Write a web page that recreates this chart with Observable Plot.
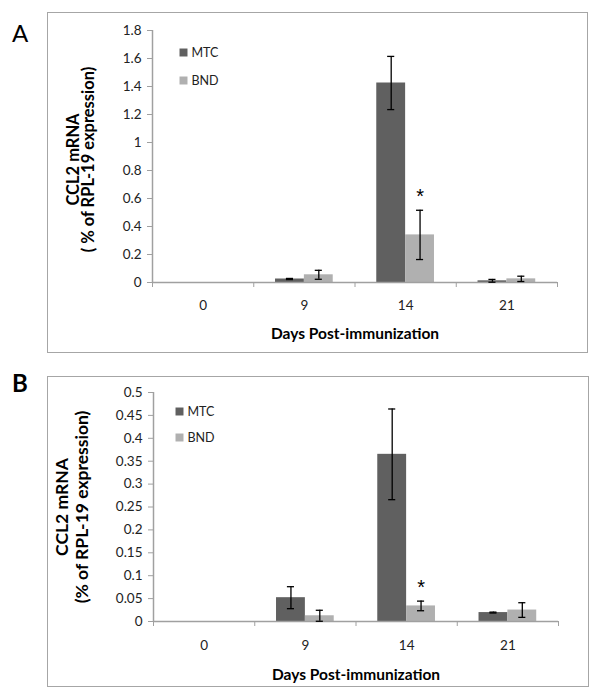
<!DOCTYPE html>
<html><head><meta charset="utf-8">
<script src="https://cdn.jsdelivr.net/npm/d3@7"></script>
<script src="https://cdn.jsdelivr.net/npm/@observablehq/plot@0.6"></script>
<style>
body{margin:0;background:#fff;width:600px;height:697px;position:relative;font-family:Lato,"Open Sans",sans-serif;overflow:hidden}
.box{position:absolute;border:1.5px solid #a6a6a6;box-sizing:border-box;pointer-events:none}
.holder{position:absolute}
.letter{position:absolute;font-size:24px;color:#000;line-height:28px}
</style></head><body>
<div class="letter" style="left:12px;top:19px;">A</div>
<div class="letter" style="left:12px;top:369px;font-weight:bold;">B</div>
<div class="holder" id="pa" style="left:48px;top:13px;width:539px;height:339px"></div>
<div class="holder" id="pb" style="left:48px;top:377px;width:540px;height:309px"></div>
<div class="box" style="left:47px;top:12px;width:541px;height:341px"></div>
<div class="box" style="left:47px;top:376px;width:542px;height:311px"></div>
<script>
// ---- data ----
const days = ["0", "9", "14", "21"];
const seriesNames = ["MTC", "BND"];
const seriesColors = ["#606060", "#b0b0b0"];

const A_mtc     = [0, 0.025, 1.425, 0.012];
const A_mtcErr  = [0, 0.004, 0.190, 0.010];
const A_bnd     = [0, 0.055, 0.340, 0.026];
const A_bndErr  = [0, 0.032, 0.176, 0.019];
const A_bndSig  = [false, false, true, false];
const A_yTicks  = [0, 0.2, 0.4, 0.6, 0.8, 1, 1.2, 1.4, 1.6, 1.8];

const B_mtc     = [0, 0.052, 0.365, 0.0195];
const B_mtcErr  = [0, 0.024, 0.099, 0.001];
const B_bnd     = [0, 0.0125, 0.034, 0.025];
const B_bndErr  = [0, 0.012, 0.0105, 0.016];
const B_bndSig  = [false, false, true, false];
const B_yTicks  = [0, 0.05, 0.1, 0.15, 0.2, 0.25, 0.3, 0.35, 0.4, 0.45, 0.5];

const yTitle1 = "CCL2 mRNA";
const yTitle2A = "( % of RPL-19 expression)";
const yTitle2B = "(% of RPL-19 expression)";
const xTitle = "Days Post-immunization";

// ---- drawing ----
const axisGray = "#a0a0a0";
const barW = 0.285;   // fraction of a category per bar
const capW = 0.035;   // half cap width, fraction of a category

function panel(o) {
  const rows = days.flatMap((d, i) => [
    {day: d, s: "MTC", v: o.mtc[i], e: o.mtcErr[i], x1: i + 0.5 - barW, x2: i + 0.5, sig: false},
    {day: d, s: "BND", v: o.bnd[i], e: o.bndErr[i], x1: i + 0.5, x2: i + 0.5 + barW, sig: o.sig[i]}
  ]);
  rows.forEach(r => r.cx = (r.x1 + r.x2) / 2);
  const errRows = rows.filter(r => r.e > 0);
  const bounds = d3.range(days.length + 1);
  const legend = seriesNames.flatMap((s, k) => [
    Plot.dot([s], {frameAnchor: "top-left", dx: o.legDx, dy: o.legDy + k * o.legGap, symbol: "square", r: 4.5, fill: seriesColors[k]}),
    Plot.text([s], {frameAnchor: "top-left", dx: o.legDx + 8, dy: o.legDy + k * o.legGap, text: d => d, textAnchor: "start", lineAnchor: "middle", fontSize: 12.5, fill: "#222"})
  ]);
  return Plot.plot({
    width: o.width, height: o.height,
    marginLeft: o.ml, marginRight: o.mr, marginTop: o.mt, marginBottom: o.mb,
    style: {fontFamily: "Lato, 'Open Sans', sans-serif", fontSize: "13px", background: "transparent", overflow: "visible"},
    x: {domain: [0, days.length]},
    y: {domain: [0, o.yMax]},
    color: {domain: seriesNames, range: seriesColors},
    marks: [
      Plot.rectY(rows, {x1: "x1", x2: "x2", y1: 0, y2: "v", fill: "s"}),
      Plot.ruleY([0], {stroke: axisGray, strokeWidth: 1.5}),
      Plot.ruleX([0], {stroke: axisGray, strokeWidth: 1.5}),
      Plot.axisY({ticks: o.yTicks, tickSize: 5, tickPadding: 6, tickFormat: d => String(d), stroke: axisGray, fill: "#222", fontSize: 13.5, label: null}),
      Plot.axisX({ticks: bounds, tickSize: 5, tickFormat: () => "", stroke: axisGray, label: null}),
      Plot.text(days, {x: (d, i) => i + 0.5, y: () => 0, text: d => d, dy: o.xLabDy, lineAnchor: "middle", fontSize: 13.5, fill: "#222"}),
      Plot.ruleX(errRows, {x: "cx", y1: r => r.v - r.e, y2: r => r.v + r.e, stroke: "#000", strokeWidth: 1.3}),
      Plot.ruleY(errRows, {y: r => r.v + r.e, x1: r => r.cx - capW, x2: r => r.cx + capW, stroke: "#000", strokeWidth: 1.3}),
      Plot.ruleY(errRows, {y: r => r.v - r.e, x1: r => r.cx - capW, x2: r => r.cx + capW, stroke: "#000", strokeWidth: 1.3}),
      Plot.text(rows.filter(r => r.sig), {x: "cx", y: r => r.v + r.e, text: () => "*", dy: -14, lineAnchor: "middle", fontSize: 20, fontFamily: "'Liberation Sans', sans-serif", fill: "#000"}),
      Plot.text([xTitle], {frameAnchor: "bottom", dy: o.xTitleDy, textAnchor: "middle", lineAnchor: "middle", fontWeight: "bold", fontSize: 15.5, fill: "#000"}),
      Plot.text([yTitle1], {frameAnchor: "left", rotate: -90, dx: o.yt1Dx, dy: o.ytDy, textAnchor: "middle", lineAnchor: "middle", fontWeight: "bold", fontSize: o.ytSize, fill: "#000"}),
      Plot.text([o.yTitle2], {frameAnchor: "left", rotate: -90, dx: o.yt2Dx, dy: o.ytDy, textAnchor: "middle", lineAnchor: "middle", fontWeight: "bold", fontSize: o.ytSize, fill: "#000"}),
      ...legend
    ]
  });
}

document.getElementById("pa").append(panel({
  mtc: A_mtc, mtcErr: A_mtcErr, bnd: A_bnd, bndErr: A_bndErr, sig: A_bndSig,
  yMax: 1.8, yTicks: A_yTicks, yTitle2: yTitle2A,
  width: 539, height: 339, ml: 104, mr: 30, mt: 17, mb: 70,
  xLabDy: 23, xTitleDy: 52, yt1Dx: -79, yt2Dx: -64, ytDy: 3, ytSize: 16.5,
  legDx: 31, legDy: 22, legGap: 28
}));
document.getElementById("pb").append(panel({
  mtc: B_mtc, mtcErr: B_mtcErr, bnd: B_bnd, bndErr: B_bndErr, sig: B_bndSig,
  yMax: 0.5, yTicks: B_yTicks, yTitle2: yTitle2B,
  width: 540, height: 309, ml: 105, mr: 30, mt: 15, mb: 65,
  xLabDy: 24, xTitleDy: 54, yt1Dx: -91, yt2Dx: -71, ytDy: 0, ytSize: 17.5,
  legDx: 26, legDy: 19, legGap: 26
}));
</script>
</body></html>
